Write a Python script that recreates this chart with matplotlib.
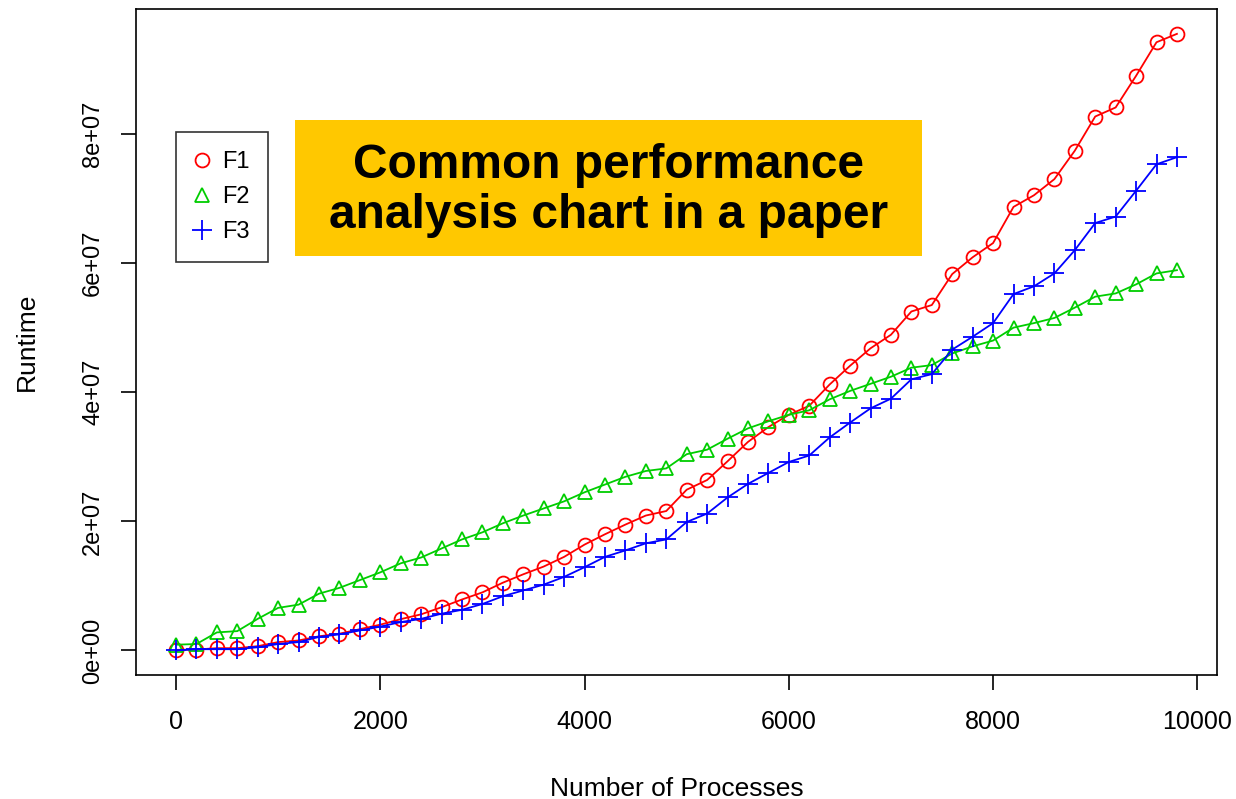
import numpy as np
import matplotlib
matplotlib.use("Agg")
import matplotlib.pyplot as plt
from matplotlib.patches import Rectangle

plt.rcParams['font.family'] = ['Liberation Sans', 'DejaVu Sans']

processes = list(range(0, 10000, 200))

# runtimes in units of 1e7
f1 = [0.01, 0.015, 0.036, 0.036, 0.067, 0.13, 0.155, 0.22, 0.26, 0.33,
      0.40, 0.485, 0.56, 0.67, 0.79, 0.90, 1.05, 1.18, 1.30, 1.45,
      1.64, 1.80, 1.95, 2.09, 2.16, 2.49, 2.64, 2.93, 3.23, 3.46,
      3.65, 3.79, 4.12, 4.41, 4.68, 4.89, 5.25, 5.35, 5.83, 6.09,
      6.31, 6.87, 7.05, 7.30, 7.74, 8.27, 8.41, 8.90, 9.42, 9.55]
f2 = [0.09, 0.10, 0.28, 0.30, 0.49, 0.66, 0.71, 0.88, 0.97, 1.09,
      1.21, 1.35, 1.44, 1.58, 1.72, 1.83, 1.97, 2.09, 2.20, 2.31,
      2.45, 2.57, 2.69, 2.78, 2.82, 3.04, 3.11, 3.28, 3.44, 3.55,
      3.65, 3.72, 3.89, 4.02, 4.13, 4.24, 4.38, 4.42, 4.60, 4.71,
      4.80, 5.00, 5.07, 5.15, 5.31, 5.48, 5.53, 5.67, 5.84, 5.89]
f3 = [0.0, 0.02, 0.02, 0.02, 0.05, 0.10, 0.13, 0.21, 0.25, 0.31,
      0.37, 0.44, 0.49, 0.57, 0.63, 0.72, 0.84, 0.93, 1.02, 1.14,
      1.29, 1.45, 1.55, 1.66, 1.72, 1.99, 2.12, 2.37, 2.58, 2.75,
      2.92, 3.02, 3.30, 3.53, 3.75, 3.90, 4.20, 4.28, 4.66, 4.86,
      5.07, 5.52, 5.64, 5.84, 6.20, 6.62, 6.72, 7.12, 7.53, 7.64]

series_names = ['F1', 'F2', 'F3']
x_ticks = [0, 2000, 4000, 6000, 8000, 10000]
y_ticks = [0, 2e7, 4e7, 6e7, 8e7]
y_tick_labels = ['0e+00', '2e+07', '4e+07', '6e+07', '8e+07']

x = np.array(processes)
ys = [np.array(f) * 1e7 for f in (f1, f2, f3)]
colors = ['#FF0000', '#00CD00', '#0000FF']
markers = ['o', '^', '+']

fig = plt.figure(figsize=(12.36, 7.99), dpi=100)
ax = fig.add_axes([0.110, 0.155, 0.8746, 0.8335])

handles = []
for y, c, m, name in zip(ys, colors, markers, series_names):
    ax.plot(x, y, color=c, lw=1.3)
    ms = 14 if m == '+' else 10
    h, = ax.plot(x, y, linestyle='none', marker=m, markersize=ms,
                 markerfacecolor='none', markeredgecolor=c, markeredgewidth=1.3,
                 label=name)
    handles.append(h)

# R style 4% padding
xr = x.max() - x.min()
ax.set_xlim(x.min() - 0.04 * xr, x.max() + 0.04 * xr)
ymin = min(y.min() for y in ys)
ymax = max(y.max() for y in ys)
yr = ymax - ymin
ax.set_ylim(ymin - 0.04 * yr, ymax + 0.04 * yr)

ax.set_xticks(x_ticks)
ax.set_xticklabels([str(t) for t in x_ticks], fontsize=18)
ax.set_yticks(y_ticks)
ax.set_yticklabels(y_tick_labels, fontsize=17, rotation=90, va='center')
ax.tick_params(length=11, width=1.2)
ax.tick_params(axis='x', pad=14)
ax.tick_params(axis='y', pad=12)
for s in ax.spines.values():
    s.set_linewidth(1.2)

ax.set_xlabel('Number of Processes', fontsize=19, labelpad=31)
ax.set_ylabel('Runtime', fontsize=19, labelpad=31)

leg = ax.legend(handles=handles, loc='upper left', bbox_to_anchor=(0.037, 0.8153),
                fontsize=17, frameon=True, fancybox=False, edgecolor='black',
                handlelength=0.6, handletextpad=0.55, borderpad=0.8,
                labelspacing=0.55, borderaxespad=0)
leg.get_frame().set_linewidth(1.2)

# yellow banner
fig.patches.append(Rectangle((295 / 1236, 1 - 256 / 799), 627 / 1236, 136 / 799,
                             transform=fig.transFigure, facecolor='#FFC800',
                             edgecolor='none', zorder=5))
fig.text(608.5 / 1236, 1 - 190.5 / 799, 'Common performance\nanalysis chart in a paper',
         ha='center', va='center', fontsize=34.5, fontweight='bold',
         linespacing=1.15, zorder=6)

fig.savefig('out.png', dpi=100)
